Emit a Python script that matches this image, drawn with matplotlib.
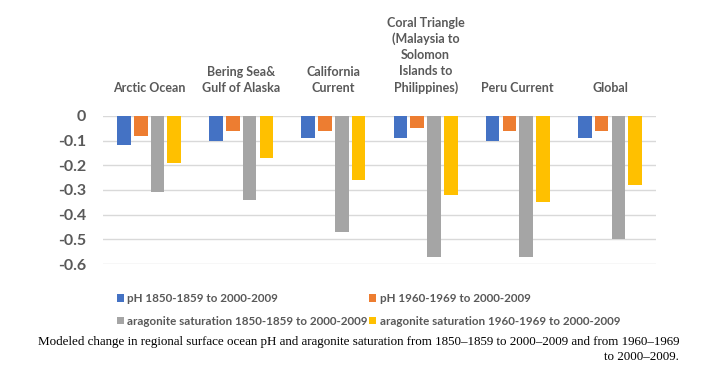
import matplotlib.pyplot as plt
import numpy as np

# data
regions = ["Arctic Ocean", "Bering Sea&\nGulf of Alaska", "California\nCurrent",
           "Coral Triangle\n(Malaysia to\nSolomon\nIslands to\nPhilippines)",
           "Peru Current", "Global"]
ph_1850 = [-0.12, -0.10, -0.09, -0.09, -0.10, -0.09]
ph_1960 = [-0.08, -0.06, -0.06, -0.05, -0.06, -0.06]
arag_1850 = [-0.31, -0.34, -0.47, -0.57, -0.57, -0.50]
arag_1960 = [-0.19, -0.17, -0.26, -0.32, -0.35, -0.28]
series_names = ["pH 1850-1859 to 2000-2009", "pH 1960-1969 to 2000-2009",
                "aragonite saturation 1850-1859 to 2000-2009",
                "aragonite saturation 1960-1969 to 2000-2009"]
colors = ["#4472C4", "#ED7D31", "#A5A5A5", "#FFC000"]
yticks = [0, -0.1, -0.2, -0.3, -0.4, -0.5, -0.6]
ytick_labels = ["0", "-0.1", "-0.2", "-0.3", "-0.4", "-0.5", "-0.6"]
caption = ("Modeled change in regional surface ocean pH and aragonite saturation "
           "from 1850\u20131859 to 2000\u20132009 and from 1960\u20131969")
caption2 = "to 2000\u20132009."

txt = "#595959"

fig = plt.figure(figsize=(7.17, 3.81), dpi=100)
ax = fig.add_axes([0.1437, 0.307, 0.7713, 0.389])

x = np.arange(len(regions))
pitch = 0.182
width = 0.148
all_series = [ph_1850, ph_1960, arag_1850, arag_1960]
handles = []
for i, (vals, c) in enumerate(zip(all_series, colors)):
    h = ax.bar(x + (i - 1.5) * pitch, vals, width, color=c, zorder=3)
    handles.append(h)

ax.set_xlim(-0.5, len(regions) - 0.5)
ax.set_ylim(-0.6, 0)
ax.set_yticks(yticks)
ax.set_yticklabels(ytick_labels, fontfamily="Lato", fontweight="bold",
                   fontsize=11.5, color=txt)
ax.set_xticks([])
ax.tick_params(axis="y", length=0, pad=12)
ax.grid(axis="y", color="#D9D9D9", linewidth=1, zorder=0)
for s in ax.spines.values():
    s.set_visible(False)

for xi, name in zip(x, regions):
    ax.text(xi, 1.145, name, transform=ax.get_xaxis_transform(),
            ha="center", va="bottom", fontfamily="Lato", fontweight="bold",
            fontsize=9, color=txt, linespacing=1.4)

# legend fills column-wise, so reorder to read row by row
order = [0, 2, 1, 3]
leg = fig.legend([handles[i] for i in order], [series_names[i] for i in order],
                 loc="upper left", bbox_to_anchor=(0.148, 0.258), ncol=2,
                 frameon=False, handlelength=0.6, handleheight=0.6,
                 handletextpad=0.3, columnspacing=0.15, labelspacing=1.0,
                 prop={"family": "Lato", "weight": "bold", "size": 8.4})
for t in leg.get_texts():
    t.set_color(txt)

fig.text(0.053, 0.103, caption, fontfamily="Liberation Serif", fontsize=9.4,
         ha="left", va="center", color="black")
fig.text(0.947, 0.063, caption2, fontfamily="Liberation Serif", fontsize=9.4,
         ha="right", va="center", color="black")

fig.savefig("out.png", dpi=100)
